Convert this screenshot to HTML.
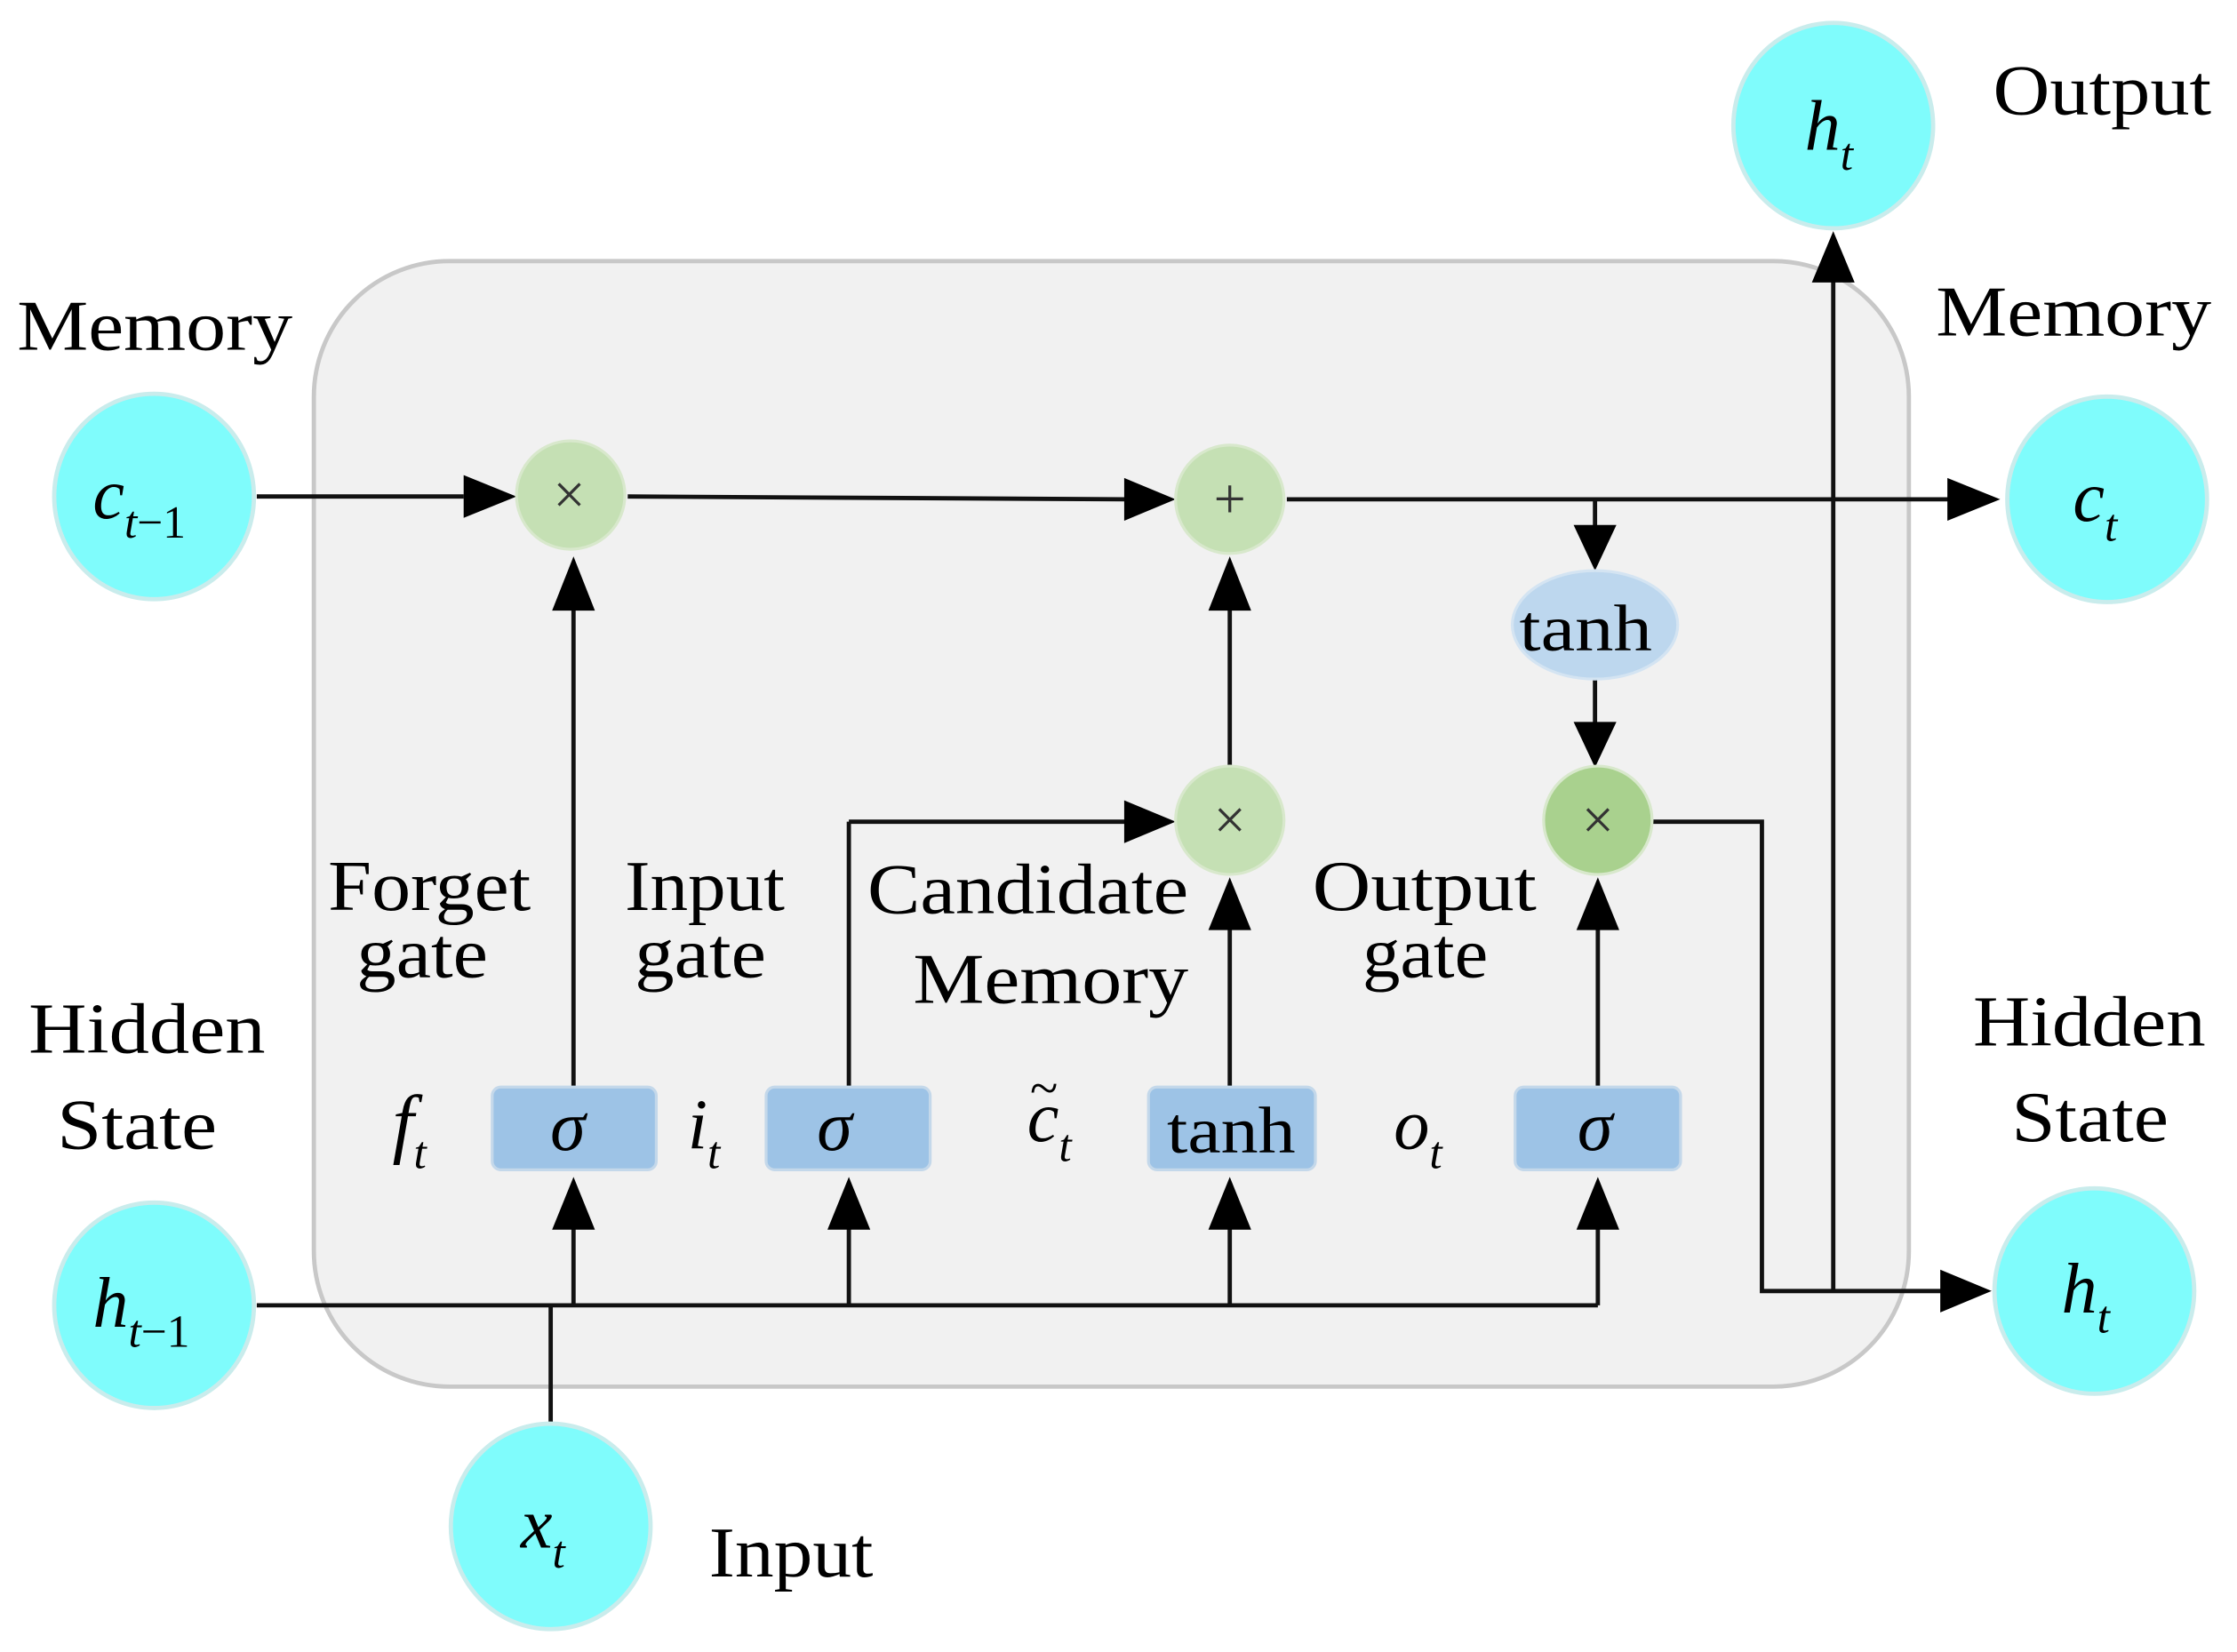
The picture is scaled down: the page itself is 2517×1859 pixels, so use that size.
<!DOCTYPE html>
<html><head><style>html,body{margin:0;padding:0;background:#fff}svg{display:block}</style></head>
<body>
<svg width="2517" height="1859" viewBox="0 0 1568 1158" xmlns="http://www.w3.org/2000/svg" font-family="Liberation Serif, serif">
<rect x="220" y="183" width="1118" height="789" rx="95" fill="#f1f1f1" stroke="#c8c8c8" stroke-width="3"/>
<g stroke="#111" stroke-width="3" fill="none">
<line x1="180" y1="348" x2="325" y2="348"/>
<line x1="440" y1="348" x2="790" y2="350"/>
<line x1="902" y1="350" x2="1370" y2="350"/>
<line x1="1118" y1="350" x2="1118" y2="372"/>
<line x1="1118" y1="476" x2="1118" y2="510"/>
<line x1="180" y1="915" x2="1120" y2="915"/>
<line x1="386" y1="998" x2="386" y2="915"/>
<line x1="402" y1="915" x2="402" y2="858"/>
<line x1="402" y1="762" x2="402" y2="425"/>
<line x1="595" y1="915" x2="595" y2="858"/>
<line x1="595" y1="762" x2="595" y2="576"/><line x1="595" y1="576" x2="790" y2="576"/>
<line x1="862" y1="915" x2="862" y2="858"/>
<line x1="862" y1="762" x2="862" y2="650"/>
<line x1="862" y1="537" x2="862" y2="425"/>
<line x1="1120" y1="915" x2="1120" y2="858"/>
<line x1="1120" y1="762" x2="1120" y2="650"/>
<polyline points="1158,576 1235,576 1235,905 1362,905"/>
<line x1="1285" y1="905" x2="1285" y2="195"/>
</g>
<g fill="#000">
<path d="M325,333 L362,348 L325,363z"/>
<path d="M788,335 L824,350 L788,365z"/>
<path d="M788,561 L824,576 L788,591z"/>
<path d="M1365,335 L1402,350 L1365,365z"/>
<path d="M1360,890 L1396,905 L1360,920z"/>
<path d="M1103,368 L1118,400 L1133,368z"/>
<path d="M1103,506 L1118,538 L1133,506z"/>
<path d="M387,862 L402,825 L417,862z"/>
<path d="M580,862 L595,825 L610,862z"/>
<path d="M847,862 L862,825 L877,862z"/>
<path d="M1105,862 L1120,825 L1135,862z"/>
<path d="M387,428 L402,390 L417,428z"/>
<path d="M847,428 L862,390 L877,428z"/>
<path d="M847,652 L862,615 L877,652z"/>
<path d="M1105,652 L1120,615 L1135,652z"/>
<path d="M1270,198 L1285,162 L1300,198z"/>
</g>
<g fill="#c5e0b4" stroke="#d8e8cc" stroke-width="2">
<circle cx="400" cy="347" r="38"/><circle cx="862" cy="350" r="38"/><circle cx="862" cy="575" r="38"/>
<circle cx="1120" cy="575" r="38" fill="#a9d18e"/>
</g>
<ellipse cx="1118" cy="438" rx="58" ry="38" fill="#bdd7ee" stroke="#d4e4f2" stroke-width="2"/>
<g fill="#9dc3e6" stroke="#c4d8ea" stroke-width="2">
<rect x="345" y="762" width="115" height="58" rx="6"/>
<rect x="537" y="762" width="115" height="58" rx="6"/>
<rect x="805" y="762" width="117" height="58" rx="6"/>
<rect x="1062" y="762" width="116" height="58" rx="6"/>
</g>
<g fill="#7ffcfc" stroke="#c9ecec" stroke-width="3">
<ellipse cx="108" cy="348" rx="70" ry="72"/>
<ellipse cx="108" cy="915" rx="70" ry="72"/>
<ellipse cx="386" cy="1070" rx="70" ry="72"/>
<ellipse cx="1285" cy="88" rx="70" ry="72"/>
<ellipse cx="1477" cy="350" rx="70" ry="72"/>
<ellipse cx="1468" cy="905" rx="70" ry="72"/>
</g>
<g font-size="40" text-anchor="middle" fill="#333">
<text x="399" y="360">×</text><text x="862" y="363">+</text><text x="862" y="588">×</text><text x="1120" y="588">×</text>
</g>
<g font-size="50" fill="#000" lengthAdjust="spacingAndGlyphs">
<text x="1065" y="456" textLength="93" lengthAdjust="spacingAndGlyphs" font-size="46">tanh</text>
<text x="818" y="808" textLength="90" lengthAdjust="spacingAndGlyphs" font-size="46">tanh</text>
<g font-style="italic" text-anchor="middle" font-size="50">
<text x="398" y="806">σ</text><text x="585" y="806">σ</text><text x="1118" y="806">σ</text>
</g>
<text x="12" y="245" textLength="193" lengthAdjust="spacingAndGlyphs">Memory</text>
<text x="1357" y="235" textLength="193" lengthAdjust="spacingAndGlyphs">Memory</text>
<text x="1397" y="80" textLength="153" lengthAdjust="spacingAndGlyphs">Output</text>
<text x="497" y="1105" textLength="115" lengthAdjust="spacingAndGlyphs">Input</text>
<text x="20" y="738" textLength="166" lengthAdjust="spacingAndGlyphs">Hidden</text>
<text x="40" y="805" textLength="112" lengthAdjust="spacingAndGlyphs">State</text>
<text x="1383" y="733" textLength="163" lengthAdjust="spacingAndGlyphs">Hidden</text>
<text x="1410" y="800" textLength="110" lengthAdjust="spacingAndGlyphs">State</text>
<text x="230" y="638" textLength="142" lengthAdjust="spacingAndGlyphs">Forget</text><text x="250" y="685" textLength="92" lengthAdjust="spacingAndGlyphs">gate</text>
<text x="438" y="638" textLength="112" lengthAdjust="spacingAndGlyphs">Input</text><text x="445" y="685" textLength="92" lengthAdjust="spacingAndGlyphs">gate</text>
<text x="608" y="640" textLength="225" lengthAdjust="spacingAndGlyphs">Candidate</text><text x="640" y="703" textLength="193" lengthAdjust="spacingAndGlyphs">Memory</text>
<text x="920" y="638" textLength="157" lengthAdjust="spacingAndGlyphs">Output</text><text x="955" y="685" textLength="88" lengthAdjust="spacingAndGlyphs">gate</text>
</g>
<g font-style="italic" fill="#000">
<text x="65" y="363" font-size="50">c<tspan font-size="32" dy="14">t</tspan><tspan font-size="32" font-style="normal">−1</tspan></text>
<text x="65" y="930" font-size="50">h<tspan font-size="32" dy="14">t</tspan><tspan font-size="32" font-style="normal">−1</tspan></text>
<text x="365" y="1085" font-size="50">x<tspan font-size="32" dy="14">t</tspan></text>
<text x="1265" y="105" font-size="50">h<tspan font-size="32" dy="14">t</tspan></text>
<text x="1453" y="365" font-size="50">c<tspan font-size="32" dy="14">t</tspan></text>
<text x="1445" y="920" font-size="50">h<tspan font-size="32" dy="14">t</tspan></text>
<text x="275" y="805" font-size="54">f<tspan font-size="32" dy="14">t</tspan></text>
<text x="482" y="805" font-size="50">i<tspan font-size="32" dy="14">t</tspan></text>
<text x="720" y="800" font-size="50">c<tspan font-size="32" dy="14">t</tspan></text>
<text x="722" y="775" font-size="36" font-style="normal">~</text>
<text x="977" y="805" font-size="50">o<tspan font-size="32" dy="14">t</tspan></text>
</g>
</svg>
</body></html>
